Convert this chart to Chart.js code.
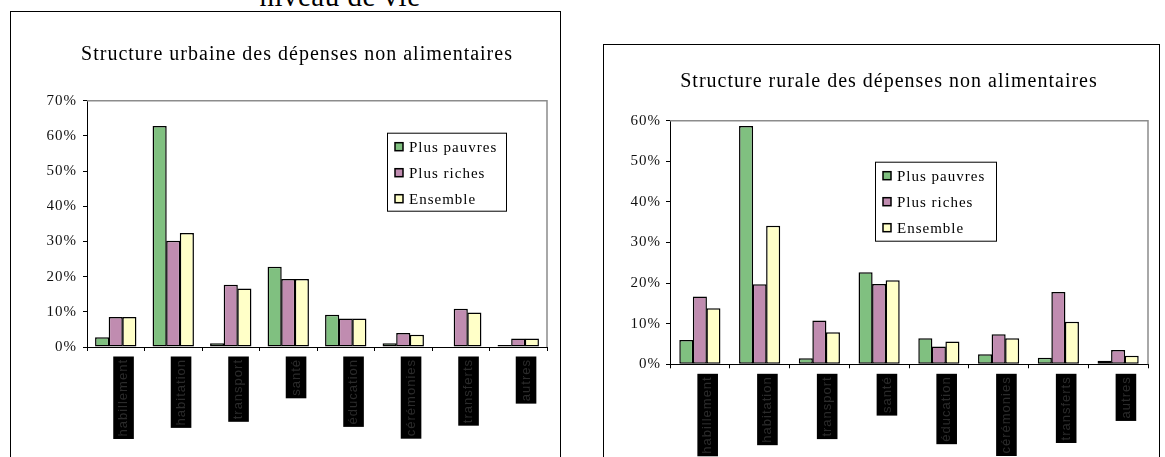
<!DOCTYPE html>
<html>
<head>
<meta charset="utf-8">
<script src="https://cdn.jsdelivr.net/npm/chart.js@4.4.0/dist/chart.umd.min.js"></script>
<style>
    body { margin: 0; background: #fff; width: 1165px; height: 457px; overflow: hidden; position: relative; font-family: "Liberation Serif", serif; }
    .page-title { position: absolute; left: 250px; top: -19px; width: 180px; text-align: center; font-size: 29px; letter-spacing: 0.5px; line-height: 30px; color: #000; }
    .frame { position: absolute; border: 1px solid #000; }
    #urbainBox { left: 10px; top: 11px; width: 549px; height: 470px; }
    #ruralBox { left: 603px; top: 44px; width: 555px; height: 440px; }
    canvas { position: absolute; left: 0; top: 0; }
</style>
</head>
<body>
<div class="page-title">niveau de vie</div>
<div class="frame" id="urbainBox"><canvas id="urbainChart" width="548" height="445"></canvas></div>
<div class="frame" id="ruralBox"><canvas id="ruralChart" width="555" height="412"></canvas></div>

<script>
// Categories (labels are printed in black boxes in the source)
const categories = ['habillement', 'habitation', 'transport', 'santé', 'éducation', 'cérémonies', 'transferts', 'autres'];
const seriesNames = ['Plus pauvres', 'Plus riches', 'Ensemble'];

// Urban structure (%)
const urbainPauvres = [2.8, 62.8, 1.1, 22.8, 9.2, 1.1, 0, 0.6];
const urbainRiches = [8.5, 30.2, 17.7, 19.3, 8.1, 4.0, 10.9, 2.4];
const urbainEnsemble = [8.5, 32.4, 16.6, 19.3, 8.1, 3.5, 9.8, 2.4];

// Rural structure (%)
const ruralPauvres = [6.0, 58.7, 1.5, 22.7, 6.4, 2.5, 1.6, 0.9];
const ruralRiches = [16.7, 19.7, 10.8, 19.8, 4.4, 7.4, 17.8, 3.5];
const ruralEnsemble = [13.8, 34.1, 7.9, 20.7, 5.6, 6.4, 10.5, 2.1];

// Axis ranges
const urbainMax = 70;
const ruralMax = 60;
const tickStep = 10;

const colors = ['#80C080', '#C08CB0', '#FFFFC8'];

// letter spacing like the original print
const spacingPlugin = {
    id: 'spacing',
    beforeUpdate: function(chart) { chart.ctx.letterSpacing = '1px'; },
    beforeDraw: function(chart) { chart.ctx.letterSpacing = '1px'; }
};

// grey top and right edge of the plot area
const plotFrame = {
    id: 'plotFrame',
    beforeDatasetsDraw: function(chart) {
        const a = chart.chartArea;
        const ctx = chart.ctx;
        ctx.save();
        ctx.strokeStyle = '#8c8c8c';
        ctx.lineWidth = 1.5;
        ctx.beginPath();
        ctx.moveTo(a.left, a.top);
        ctx.lineTo(a.right, a.top);
        ctx.lineTo(a.right, a.bottom);
        ctx.stroke();
        ctx.restore();
    }
};

// boxed legend inside the plot
const boxLegend = {
    id: 'boxLegend',
    afterDraw: function(chart, args, opts) {
        const a = chart.chartArea;
        const ctx = chart.ctx;
        const x = a.left + opts.dx;
        const y = a.top + opts.dy;
        ctx.save();
        ctx.letterSpacing = '1px';
        ctx.fillStyle = '#fff';
        ctx.fillRect(x, y, opts.w, opts.h);
        ctx.strokeStyle = '#000';
        ctx.lineWidth = 1;
        ctx.strokeRect(x + 0.5, y + 0.5, opts.w, opts.h);
        ctx.font = '15px "Liberation Serif"';
        ctx.textBaseline = 'middle';
        chart.data.datasets.forEach(function(ds, i) {
            const cy = y + 14 + i * 26;
            ctx.fillStyle = ds.backgroundColor;
            ctx.fillRect(x + 8, cy - 4, 8, 8);
            ctx.strokeStyle = '#000';
            ctx.lineWidth = 1.5;
            ctx.strokeRect(x + 8, cy - 4, 8, 8);
            ctx.fillStyle = '#000';
            ctx.fillText(ds.label, x + 22, cy + 1);
        });
        ctx.restore();
    }
};

function buildChart(id, title, values, yMax, lay) {
    const ctx = document.getElementById(id).getContext('2d');
    return new Chart(ctx, {
        type: 'bar',
        data: {
            labels: categories,
            datasets: values.map(function(v, i) {
                return {
                    label: seriesNames[i],
                    data: v,
                    backgroundColor: colors[i],
                    borderColor: '#000',
                    borderWidth: 1.5,
                    borderSkipped: false,
                    categoryPercentage: lay.groupWidth,
                    barPercentage: 1.04
                };
            })
        },
        options: {
            responsive: false,
            animation: false,
            devicePixelRatio: 1,
            layout: { padding: { left: lay.padLeft, right: lay.padRight, top: 0, bottom: 0 } },
            plugins: {
                legend: { display: false },
                tooltip: { enabled: false },
                title: {
                    display: true,
                    text: title,
                    color: '#000',
                    font: { family: '"Liberation Serif"', size: 20, weight: 'normal' },
                    padding: { top: lay.titleTop, bottom: lay.titleBottom }
                },
                boxLegend: lay.legend
            },
            scales: {
                x: {
                    grid: { drawOnChartArea: false, color: '#000', tickLength: 4, offset: true },
                    border: { color: '#000', width: 1 },
                    afterFit: function(scale) { scale.height = lay.xHeight; },
                    ticks: {
                        autoSkip: false,
                        minRotation: 90,
                        maxRotation: 90,
                        padding: 8,
                        color: '#2b2b2b',
                        font: { family: '"Liberation Sans"', size: 13 },
                        showLabelBackdrop: true,
                        backdropColor: '#000',
                        backdropPadding: 2.5
                    }
                },
                y: {
                    min: 0,
                    max: yMax,
                    grid: { drawOnChartArea: false, color: '#000', tickLength: 4 },
                    border: { color: '#000', width: 1 },
                    afterFit: function(scale) { scale.width = 40; },
                    ticks: {
                        stepSize: tickStep,
                        padding: lay.yPad,
                        color: '#111',
                        font: { family: '"Liberation Serif"', size: 15 },
                        callback: function(value) { return value + '%'; }
                    }
                }
            }
        },
        plugins: [spacingPlugin, plotFrame, boxLegend]
    });
}

buildChart('urbainChart', 'Structure urbaine des dépenses non alimentaires',
    [urbainPauvres, urbainRiches, urbainEnsemble], urbainMax, {
        padLeft: 36, padRight: 12, titleTop: 31, titleBottom: 33.7, xHeight: 110, yPad: 6,
        groupWidth: 0.71,
        legend: { dx: 300, dy: 32, w: 119, h: 78 }
    });

buildChart('ruralChart', 'Structure rurale des dépenses non alimentaires',
    [ruralPauvres, ruralRiches, ruralEnsemble], ruralMax, {
        padLeft: 26, padRight: 11, titleTop: 24.6, titleBottom: 27.1, xHeight: 92.7, yPad: 5,
        groupWidth: 0.68,
        legend: { dx: 205, dy: 41, w: 121, h: 79 }
    });
</script>
</body>
</html>
